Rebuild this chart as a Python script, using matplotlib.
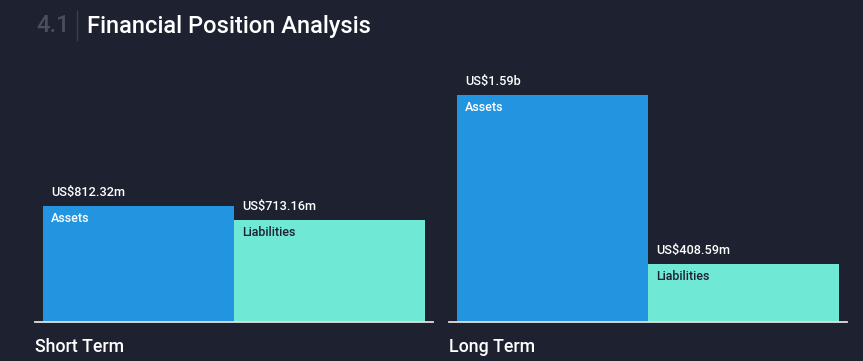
import matplotlib
matplotlib.use("Agg")
import matplotlib.pyplot as plt

# values in US$ millions
groups = ["Short Term", "Long Term"]
categories = ["Assets", "Liabilities"]
short_term = [812.32, 713.16]
long_term = [1590.0, 408.59]
value_labels = [["US$812.32m", "US$713.16m"], ["US$1.59b", "US$408.59m"]]

bg = "#1d2130"
bar_colors = ["#2394df", "#6fe8d6"]
inner_text = ["#ffffff", "#1d2130"]

plt.rcParams["font.family"] = ["Roboto", "DejaVu Sans"]

W, H = 863, 361
fig = plt.figure(figsize=(W / 100, H / 100), dpi=100, facecolor=bg)

# shared y scale: 227 px for 1590
ymax = 1590.0 * 262 / 227
lefts = [35, 449]
for i, vals in enumerate([short_term, long_term]):
    ax = fig.add_axes([lefts[i] / W, (H - 322) / H, 398 / W, 262 / H])
    ax.set_facecolor(bg)
    ax.bar([0, 1], vals, width=1.0, color=bar_colors, align="center")
    ax.set_xlim(-0.5 - 8 / 191, 1.5 + 8 / 191)
    ax.set_ylim(0, ymax)
    for s in ["top", "left", "right"]:
        ax.spines[s].set_visible(False)
    ax.spines["bottom"].set_color("#e0e0e0")
    ax.spines["bottom"].set_linewidth(1.3)
    ax.set_xticks([])
    ax.set_yticks([])
    px = ymax / 262  # data units per pixel
    for j, v in enumerate(vals):
        x0 = j - 0.5 + 8 / 191
        ax.text(x0, v + 7 * px, value_labels[i][j], color="white", fontsize=9.2,
                fontweight="medium", ha="left", va="bottom")
        ax.text(x0, v - 6 * px, categories[j], color=inner_text[j], fontsize=9,
                fontweight="medium", ha="left", va="top")
    fig.text(lefts[i] / W, 1 - 347 / H, groups[i], color="white", fontsize=12.8,
             fontweight="medium", ha="left", va="center")

# title
fig.text(36 / W, 1 - 26 / H, "4.1", color="#4a4f5c", fontsize=17, fontweight="medium",
         ha="left", va="center")
fig.add_artist(plt.Line2D([77 / W, 77 / W], [1 - 11 / H, 1 - 40 / H],
                          color="#3a3f4c", linewidth=1))
fig.text(87 / W, 1 - 26 / H, "Financial Position Analysis", color="white", fontsize=17,
         fontweight="medium", ha="left", va="center")

fig.savefig("out.png", dpi=100, facecolor=bg)
